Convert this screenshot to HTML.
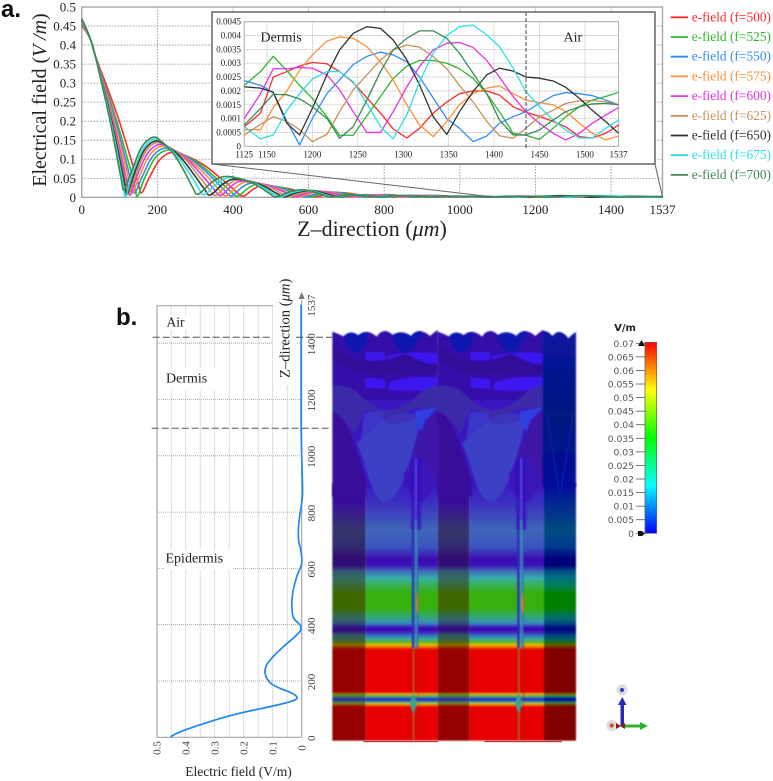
<!DOCTYPE html>
<html lang="en">
<head>
<meta charset="utf-8">
<title>Electric field distribution</title>
<style>
html,body{margin:0;padding:0;background:#fff;}
svg{position:absolute;left:0;top:0;display:block;}
text{font-family:"Liberation Serif",serif;fill:#222;}
.sans{font-family:"Liberation Sans",sans-serif;font-weight:bold;fill:#111;}
.dv{font-family:"DejaVu Sans",sans-serif;fill:#555;}
</style>
</head>
<body>
<svg id="fig" width="773" height="781" viewBox="0 0 773 781" xmlns="http://www.w3.org/2000/svg">
  <defs>
    <linearGradient id="grad-bright" gradientUnits="userSpaceOnUse" x1="0" x2="0" y1="490" y2="1262"></linearGradient>
    <linearGradient id="grad-dark" gradientUnits="userSpaceOnUse" x1="0" x2="0" y1="490" y2="1262"></linearGradient>
    <linearGradient id="grad-right" gradientUnits="userSpaceOnUse" x1="0" x2="0" y1="490" y2="1262"></linearGradient>
    <linearGradient id="grad-right-top" x1="0" x2="0" y1="0" y2="1">
      <stop offset="0" stop-color="#0a14a0"/><stop offset="0.55" stop-color="#001a80"/><stop offset="1" stop-color="#000a98"/>
    </linearGradient>
    <linearGradient id="grad-colorbar" x1="0" x2="0" y1="1" y2="0">
      <stop offset="0" stop-color="#0000ff"/><stop offset="0.25" stop-color="#00ffff"/><stop offset="0.5" stop-color="#00ff00"/><stop offset="0.75" stop-color="#ffff00"/><stop offset="1" stop-color="#ff0000"/>
    </linearGradient>
    <filter id="soft" x="-5%" y="-5%" width="110%" height="110%"><feGaussianBlur stdDeviation="2"/></filter>
    <g id="heat-tile">
      <path d="M22,35 Q42,42 62,52 Q68,38 78,38 Q90,38 100,46 Q112,34 128,36 Q142,38 155,50 Q166,32 182,33 Q196,35 205,48 Q216,36 230,37 Q246,38 258,48 Q270,32 286,33 Q302,36 315,48 Q328,36 338,30 L338,300 L22,300 Z" fill="#3610a8"/>
      <path d="M120,97 L178,97 L182,130 L120,128 Z" fill="#3a18ee"/>
      <path d="M185,108 Q240,92 338,100 L338,128 Q270,140 190,128 Z" fill="#3a18ee"/>
      <path d="M120,172 L178,178 L182,206 L122,204 Z" fill="#3a18ee"/>
      <path d="M190,190 Q240,165 338,172 L338,208 Q280,215 190,210 Z" fill="#3a18ee"/>
      <path d="M22,70 Q70,120 120,120 Q180,130 240,100 Q300,130 338,140 L338,155 Q270,180 210,160 Q130,170 80,150 Q50,130 22,125 Z" fill="#30109a"/>
      <path d="M56,48 Q68,36 78,38 Q90,38 100,46 Q112,34 130,36 L130,50 Q118,100 92,98 Q66,92 56,48 Z" fill="#0a18b0"/>
      <path d="M200,46 Q216,36 230,37 Q246,38 258,48 Q270,32 288,33 L286,52 Q264,100 240,98 Q212,92 200,46 Z" fill="#0a18b0"/>
      <rect x="22" y="240" width="316" height="260" fill="#3a18c0"/>
      <path d="M22,198 Q50,192 90,212 Q140,262 180,272 Q240,270 290,215 Q315,198 338,195 L338,270 Q300,262 265,265 Q225,290 185,290 L120,268 Q95,330 90,340 Q60,290 22,275 Z" fill="#3a2aa8"/>
      <path d="M118,278 L175,275 L180,340 L135,405 L105,385 Z" fill="#3a35c8"/>
      <path d="M270,275 L338,262 L300,300 L290,335 L268,310 Z" fill="#2f40e0"/>
      <path d="M95,370 C125,430 140,545 180,545 C225,545 250,440 280,330 L270,295 L180,295 Z" fill="#3a40c4"/>
      <path d="M180,295 Q215,270 270,285 L262,305 Q220,315 180,310 Z" fill="#3c30b8"/>
      <path d="M22,275 C50,275 80,340 95,390 C115,450 130,490 122,530 L22,530 Z" fill="#38109a"/>
      <path d="M338,272 C300,285 282,350 262,412 L300,420 L330,480 L338,520 Z" fill="#3c12a8"/>
      <path d="M262,412 Q285,405 300,430 Q325,480 330,490 Q300,545 285,548 Q250,540 235,465 Z" fill="#3a12b8"/>
      <rect x="258" y="415" width="30" height="215" fill="#3a12c0" opacity=".8"/>
      <rect x="261" y="630" width="7" height="355" fill="#3328c0"/>
      <rect x="270" y="415" width="5" height="185" fill="#5050d0" opacity=".9"/>
      <rect x="270" y="600" width="5" height="385" fill="#34a0a8" opacity=".9"/>
      <rect x="275" y="630" width="5" height="355" fill="#3a60c0" opacity=".8"/>
      <ellipse cx="278" cy="850" rx="3" ry="32" fill="#e06010"/>
      <rect x="264" y="985" width="3" height="277" fill="#70b030"/>
      <rect x="279" y="975" width="2" height="287" fill="#a02000"/>
      <path d="M265,1120 L276,1150 L265,1185 L254,1150 Z" fill="#40a090"/>
    </g>
    <clipPath id="tile-clip"><rect x="338" y="0" width="319" height="1300"/></clipPath>
  </defs>

  <g id="panel-a">
    <text class="sans" x="1" y="17" font-size="24">a.</text>
    <g id="main-grid"></g>
    <rect x="81.7" y="7" width="580.8" height="190.3" fill="none" stroke="#a8a8a8" stroke-width="1.4"/>
    <g id="main-ticks"></g>
    <g id="main-lines"></g>
    <text x="372" y="236" font-size="22" text-anchor="middle">Z–direction (<tspan font-style="italic">μm</tspan>)</text>
    <text transform="translate(46,100) rotate(-90)" font-size="20" text-anchor="middle">Electrical field (<tspan font-style="italic">V /m</tspan>)</text>
    <path d="M212,164 L493,197" fill="none" stroke="#666" stroke-width="1"/>
    <path d="M655,164 L662.5,197" fill="none" stroke="#666" stroke-width="1"/>
    <rect x="212" y="12" width="443" height="152" fill="#fff" stroke="#666" stroke-width="1.5"/>
    <g id="inset-grid"></g>
    <rect x="244.2" y="21.7" width="374.3" height="124.6" fill="none" stroke="#b0b0b0" stroke-width="1"/>
    <g id="inset-ticks"></g>
    <g id="inset-lines"></g>
    <line x1="526" y1="12" x2="526" y2="148" stroke="#666" stroke-width="1.2" stroke-dasharray="4 2"/>
    <text x="260.5" y="41.7" font-size="14">Dermis</text>
    <text x="563.5" y="41.7" font-size="14">Air</text>
    <g id="legend"></g>
  </g>

  <g id="panel-b">
    <text class="sans" x="116" y="325" font-size="24">b.</text>
    <g id="profile-grid"></g>
    <rect x="165" y="315" width="23" height="15" fill="#fff"/>
    <rect x="165" y="368" width="52" height="22" fill="#fff"/>
    <rect x="164" y="550" width="69" height="20" fill="#fff"/>
    <rect x="273" y="294" width="23" height="91" fill="#fff"/>
    <path d="M273,305.7 H157 V737.3 H301.7 V300" fill="none" stroke="#a8a8a8" stroke-width="1.2"/>
    <path d="M298.7,299 L301.7,292 L304.7,299 Z" fill="#777"/>
    <g id="profile-ticks"></g>
    <g id="profile-line-group"></g>
    <path d="M152.7,337.3 H272 M296,337.3 H332" fill="none" stroke="#555" stroke-width="1" stroke-dasharray="7 3"/>
    <path d="M151.7,428.3 H330" fill="none" stroke="#555" stroke-width="1" stroke-dasharray="7 3"/>
    <text x="166.5" y="326.7" font-size="13.5">Air</text>
    <text x="166" y="382.7" font-size="14">Dermis</text>
    <text x="165.5" y="562.7" font-size="14">Epidermis</text>
    <text x="238.5" y="776" font-size="13.5" text-anchor="middle">Electric field (V/m)</text>
    <text transform="translate(289.5,378) rotate(-90)" font-size="14.6">Z–direction (<tspan font-style="italic">μm</tspan>)</text>

    <g transform="translate(325,320) scale(0.33333)">
      <g id="heat-columns" filter="url(#soft)"></g>
      <g filter="url(#soft)">
        <use href="#heat-tile"/>
        <g clip-path="url(#tile-clip)"><use href="#heat-tile" x="316"/></g>
        <path d="M653,31 Q672,34 682,48 Q694,34 706,36 Q720,40 730,55 Q742,42 753,36 L753,500 L653,500 Z" fill="url(#grad-right-top)"/>
        <path d="M665,280 L705,530 L745,280" fill="none" stroke="#1a28c8" stroke-width="2"/>
      </g>
      <path d="M115,1265 H340 M478,1265 H710" fill="none" stroke="#a02020" stroke-width="3"/>
    </g>

    <text class="dv" x="625" y="331" font-size="10" font-weight="bold" text-anchor="middle" style="fill:#222">V/m</text>
    <rect x="645" y="342.3" width="11.7" height="191" fill="url(#grad-colorbar)" stroke="#666" stroke-width="0.8"/>
    <g id="colorbar-ticks"></g>
    <path d="M638,346 L641.5,340 L645,346 Z" fill="#111"/>
    <path d="M638,531 L642,531 L645,533.5 L642,536 L638,536 Z" fill="#111"/>

    <g>
      <circle cx="622" cy="690" r="5.5" fill="#ddd"/>
      <circle cx="622" cy="690" r="2" fill="#3a3ac8"/>
      <circle cx="611.7" cy="725.5" r="5.5" fill="#ddd"/>
      <circle cx="611.7" cy="725.5" r="2" fill="#e04040"/>
      <path d="M620.5,726 V705 H618 L622.3,697 L626.5,705 H624 V726 Z" fill="#2a2ab8"/>
      <path d="M622,724.5 H640 V722 L648,726 L640,730 V727.5 H622 Z" fill="#30b030"/>
      <path d="M616,723 L621,726 L616,729 Z M625,723 L620,726 L625,729 Z" fill="#802020"/>
    </g>
  </g>
</svg>

<script>
// ---- frequencies and legend ----
const frequencies = [500, 525, 550, 575, 600, 625, 650, 675, 700];
const lineColors = ['#ff2a2a', '#2db82d', '#2d8cff', '#ff9033', '#e633e6', '#c8925a', '#333333', '#2ee0e6', '#3d8a55'];

// ---- main chart values: Z position and field for each frequency ----
const zMain500 = [0,12,25,35,96,147,158,178,206,238,276,323,370,404,427,455,482,551,599,620,655,690,730,760,810,880,940,1000,1060,1100];
const eMain500 = [.45,.435,.41,.375,.21,.045,.012,.05,.098,.118,.109,.085,.048,.019,.003,.022,.031,.022,.006,.001,.009,.012,.007,.001,.007,.001,.005,.001,.003,.001];
const zMain525 = [0,12,25,35,91,137,147,167,194,226,263,309,355,389,412,440,468,536,584,605,640,675,715,745,795,865,925,985,1045,1095];
const eMain525 = [.452,.436,.41,.375,.205,.045,.003,.052,.103,.124,.114,.089,.051,.02,.003,.024,.034,.024,.007,.001,.01,.013,.007,.001,.007,.001,.005,.001,.003,.001];
const zMain550 = [0,12,25,35,88,130,140,160,187,218,254,298,344,375,396,425,454,522,570,590,625,660,700,735,785,855,915,975,1035,1090];
const eMain550 = [.455,.437,.41,.375,.205,.045,.012,.054,.107,.129,.119,.093,.053,.021,.004,.027,.037,.026,.007,.001,.01,.014,.008,.001,.007,.001,.005,.001,.003,.002];
const zMain575 = [0,12,25,35,85,125,134,153,180,210,245,288,332,362,382,411,440,507,555,575,610,645,685,720,770,840,900,960,1025,1085];
const eMain575 = [.458,.438,.41,.375,.205,.045,.01,.056,.111,.134,.123,.096,.055,.021,.004,.029,.04,.028,.008,.001,.011,.015,.008,.001,.007,.001,.005,.001,.003,.001];
const zMain600 = [0,12,25,35,82,119,128,147,174,204,237,279,319,349,368,398,428,496,545,565,598,630,670,710,760,830,890,950,1015,1080];
const eMain600 = [.46,.44,.41,.375,.205,.045,.006,.058,.115,.139,.128,.1,.057,.022,.005,.031,.043,.03,.009,.001,.012,.016,.009,.001,.007,.001,.005,.001,.003,.001];
const zMain625 = [0,12,25,35,80,115,124,143,169,199,230,270,307,336,354,386,418,484,530,550,584,618,655,695,745,815,880,940,1005,1075];
const eMain625 = [.462,.441,.41,.375,.205,.045,.01,.06,.12,.144,.132,.104,.059,.023,.005,.033,.046,.032,.009,.001,.012,.017,.009,.001,.007,.001,.005,.001,.003,.001];
const zMain650 = [0,12,25,35,78,112,120,139,165,195,224,260,296,323,340,374,408,471,516,535,570,606,645,680,730,800,865,930,995,1070];
const eMain650 = [.465,.442,.41,.375,.205,.045,.008,.062,.123,.148,.136,.107,.061,.024,.006,.035,.048,.034,.01,.001,.013,.018,.01,.001,.007,.001,.005,.001,.003,.001];
const zMain675 = [0,12,25,35,76,108,116,135,162,192,218,251,285,309,324,360,396,460,506,525,560,595,635,670,720,790,855,920,985,1065];
const eMain675 = [.467,.443,.41,.375,.205,.045,.002,.064,.127,.153,.141,.11,.063,.024,.007,.037,.052,.036,.01,.001,.013,.019,.01,.001,.007,.001,.005,.001,.003,.001];
const zMain700 = [0,12,25,35,74,104,112,131,158,189,213,243,273,294,308,345,383,449,495,515,550,585,625,660,710,780,845,910,975,1060];
const eMain700 = [.47,.444,.41,.375,.205,.05,.02,.066,.131,.158,.145,.114,.065,.025,.008,.04,.055,.039,.011,.001,.014,.02,.011,.001,.007,.001,.005,.001,.003,.001];

// ---- inset values (dermis / air zone) ----
const zInset = [1125,1143,1157,1172,1186,1200,1216,1230,1245,1260,1275,1289,1304,1318,1333,1348,1362,1377,1392,1406,1421,1435,1450,1465,1479,1494,1508,1523,1537];
const eInset500 = [.0007,.0012,.0025,.0027,.0029,.00303,.00298,.0027,.0023,.00175,.0012,.00063,.0003,.00065,.0012,.0016,.0019,.002,.002,.00185,.00143,.00123,.00108,.0009,.0007,.00035,.0003,.00047,.00077];
const eInset525 = [.0022,.0027,.00325,.00273,.0022,.00173,.00107,.0004,.0004,.0011,.0018,.00245,.0029,.0031,.0031,.003,.0028,.00245,.0019,.00125,.00047,.0004,.00025,.00065,.00107,.00143,.00167,.0018,.00195];
const eInset550 = [.00237,.0022,.00195,.0009,.00005,.001,.0019,.0024,.00295,.00325,.0034,.0033,.00305,.0025,.00175,.001,.00065,.00017,.00037,.00083,.00107,.00125,.00155,.00183,.00194,.0019,.00183,.00167,.0015];
const eInset575 = [.0006,.0006,.0014,.002,.00275,.0033,.0038,.00395,.0039,.0036,.00305,.0024,.0015,.00077,.00035,.0009,.0015,.0019,.0021,.00218,.0019,.00167,.00158,.0015,.00125,.00083,.00047,.00023,.00037];
const eInset600 = [.001,.0019,.0028,.0028,.00285,.00282,.00258,.00204,.00125,.0005,.0005,.00125,.00215,.00288,.00348,.00372,.00375,.00357,.0031,.0025,.0018,.00125,.00083,.00047,.00023,.00047,.00083,.00113,.0014];
const eInset625 = [.0004,.0008,.00107,.0009,.0006,.00017,.00043,.00125,.00204,.00258,.00312,.00348,.00366,.00358,.00324,.0028,.0022,.0016,.0009,.00038,.00029,.00065,.00107,.0013,.00155,.00164,.00165,.00161,.0015];
const eInset650 = [.00215,.0021,.00195,.00083,.00041,.00137,.00258,.00348,.00408,.00432,.00426,.00384,.00312,.00222,.00107,.00043,.00125,.00198,.00258,.00282,.00272,.0025,.00246,.00236,.00213,.00173,.0013,.00089,.00047];
const eInset675 = [.00071,.00027,.00041,.0013,.0019,.00243,.0027,.0027,.00233,.00155,.00071,.00027,.00113,.00233,.00336,.004,.00432,.00438,.00402,.0036,.00282,.00198,.00143,.00095,.00059,.0003,.0003,.00065,.00095];
const eInset700 = [.00077,.00137,.00188,.00186,.00171,.00143,.00101,.00029,.00071,.00167,.0027,.00348,.0039,.00417,.00417,.0039,.00336,.00264,.0019,.00095,.00041,.00041,.00059,.00095,.00125,.00143,.00153,.00155,.0015];

// ---- field profile (panel b) ----
const zProfile = [0,8,26,56,83,109,123,133,144,160,174,194,227,257,287,322,358,381,399,426,470,512,571,618,665,701,760,832,878,997,1116,1300,1537];
const eProfile = [.452,.4425,.402,.316,.224,.109,.052,.023,.017,.04,.075,.109,.126,.121,.098,.063,.023,.003,.006,.029,.034,.031,.017,0,.003,.011,.01,0,-.003,0,.002,.002,.002];

// ---- tick labels ----
const mainYTicks = [0,0.05,0.1,0.15,0.2,0.25,0.3,0.35,0.4,0.45,0.5];
const mainXTicks = [0,200,400,600,800,1000,1200,1400,1537];
const insetYTicks = [0,0.0005,0.001,0.0015,0.002,0.0025,0.003,0.0035,0.004,0.0045];
const insetXTicks = [1125,1150,1200,1250,1300,1350,1400,1450,1500,1537];
const profileZTicks = [0,200,400,600,800,1000,1200,1400,1537];
const profileFieldTicks = [0.5,0.4,0.3,0.2,0.1,0];
const profileFieldGrid = [0.45,0.4,0.35,0.3,0.25,0.2,0.15,0.1,0.05];
const colorbarTicks = ['0.07','0.065','0.06','0.055','0.05','0.045','0.04','0.035','0.03','0.025','0.02','0.015','0.01','0.005','0'];

// ---- heatmap band colours (tile-row, colour) ----
const bandRows = [-140,-80,0,50,85,105,125,145,170,190,235,262,280,292,303,315,327,336,345,352,358,488,491,495,500,506,512,516,521,526,530,632];
const bandBright = ['#3a18c4','#3a30c0','#3f66b8','#3b55c0','#3a10b0','#3a10b8','#3f70b8','#35b0a8','#38b040','#34b010','#34b010','#30a878','#3a88c0','#3a10b8','#3a10b8','#3a60c0','#30b0a0','#60b020','#e0c000','#f06000','#e80000','#e80000','#e8a000','#a8b010','#30b080','#3030c0','#3030c0','#30b0a0','#c8c000','#f06000','#e80000','#e80000'];
const bandDark = ['#38109a','#38109a','#35356a','#302a70','#300a70','#300a78','#355a70','#356a60','#3a6830','#3c6800','#3c6800','#306a60','#30507a','#300a80','#300a80','#305a60','#305f50','#4a6a10','#906a00','#962800','#960000','#960000','#8a7a00','#608000','#308060','#303090','#303090','#308060','#8a7a00','#962800','#960000','#960000'];
const bandRight = ['#000a98','#002890','#004a80','#003a90','#00007a','#00007a','#005080','#007080','#007f50','#008000','#008000','#007070','#004a80','#000a80','#000a80','#004080','#006070','#107010','#606000','#802000','#800000','#800000','#806000','#608000','#008070','#000098','#000098','#008070','#607000','#802000','#800000','#800000'];

// ---- axis functions ----
function xMain(z) { return 81.7 + z * 0.3781; }
function yMain(e) { return 197.3 - e * 380.6; }
function xIn(z) { return 244.2 + (z - 1125) * 0.9085; }
function yIn(e) { return 146.3 - e * 27689; }
function xProf(e) { return 301.7 - e * 290; }
function yProf(z) { return 737.3 - z * 0.2815; }

const NS = 'http://www.w3.org/2000/svg';
function node(tag, parentId, attrs) {
  const el = document.createElementNS(NS, tag);
  for (const k in attrs) el.setAttribute(k, attrs[k]);
  document.getElementById(parentId).appendChild(el);
  return el;
}
function pathFrom(xs, ys) {
  let d = '';
  for (let i = 0; i < xs.length; i++) d += (i ? 'L' : 'M') + xs[i].toFixed(2) + ',' + ys[i].toFixed(2);
  return d;
}
function smoothFrom(xs, ys, yLimit) {
  let d = 'M' + xs[0].toFixed(2) + ',' + ys[0].toFixed(2);
  for (let i = 0; i < xs.length - 1; i++) {
    const a = Math.max(i - 1, 0);
    const b = Math.min(i + 2, xs.length - 1);
    const c1x = xs[i] + (xs[i + 1] - xs[a]) / 6;
    const c1y = Math.min(ys[i] + (ys[i + 1] - ys[a]) / 6, yLimit);
    const c2x = xs[i + 1] - (xs[b] - xs[i]) / 6;
    const c2y = Math.min(ys[i + 1] - (ys[b] - ys[i]) / 6, yLimit);
    d += 'C' + c1x.toFixed(2) + ',' + c1y.toFixed(2) + ' ' + c2x.toFixed(2) + ',' + c2y.toFixed(2) + ' ' + xs[i + 1].toFixed(2) + ',' + ys[i + 1].toFixed(2);
  }
  return d;
}

// main grid and tick labels
mainYTicks.forEach(function (v) {
  const y = yMain(v);
  const g = node('line', 'main-grid', {x1: 81.7, x2: 662.5, y1: y, y2: y, stroke: '#888', 'stroke-width': 0.8, 'stroke-dasharray': '1.5 1.5'});
  
  
  const t = node('text', 'main-ticks', {x: 76, y: y + 4.5, 'font-size': 13, 'text-anchor': 'end'});
  t.textContent = String(v);
  
  
});
mainXTicks.forEach(function (v) {
  const x = v === 1537 ? 662.5 : xMain(v);
  const g = node('line', 'main-grid', {x1: x, x2: x, y1: 7, y2: 197.3, stroke: '#888', 'stroke-width': 0.8, 'stroke-dasharray': '1.5 1.5'});
  
  
  const t = node('text', 'main-ticks', {x: x, y: 214, 'font-size': 13, 'text-anchor': 'middle'});
  t.textContent = String(v);
  
  
});

// main series
const zMainAll = [zMain500, zMain525, zMain550, zMain575, zMain600, zMain625, zMain650, zMain675, zMain700];
const eMainAll = [eMain500, eMain525, eMain550, eMain575, eMain600, eMain625, eMain650, eMain675, eMain700];
const eInsetAll = [eInset500, eInset525, eInset550, eInset575, eInset600, eInset625, eInset650, eInset675, eInset700];
frequencies.forEach(function (f, i) {
  const zs = zMainAll[i].concat(zInset);
  const es = eMainAll[i].concat(eInsetAll[i]);
  const p = node('path', 'main-lines', {d: smoothFrom(zs.map(xMain), es.map(yMain), 197.3), fill: 'none', stroke: lineColors[i], 'stroke-width': 1.6, 'stroke-linejoin': 'round'});
  
  
});

// inset grid, ticks and series
insetYTicks.forEach(function (v) {
  const y = yIn(v);
  const g = node('line', 'inset-grid', {x1: 244.2, x2: 618.5, y1: y, y2: y, stroke: '#bbb', 'stroke-width': 0.8, 'stroke-dasharray': '1.5 1'});
  
  
  const t = node('text', 'inset-ticks', {x: 241, y: y + 3, 'font-size': 9, 'text-anchor': 'end'});
  t.textContent = String(v);
  
  
});
insetXTicks.forEach(function (v) {
  const x = xIn(v);
  const g = node('line', 'inset-grid', {x1: x, x2: x, y1: 21.7, y2: 146.3, stroke: '#bbb', 'stroke-width': 0.8, 'stroke-dasharray': '1.5 1'});
  
  
  const t = node('text', 'inset-ticks', {x: x, y: 157.7, 'font-size': 9, 'text-anchor': 'middle'});
  t.textContent = String(v);
  
  
});
frequencies.forEach(function (f, i) {
  const p = node('path', 'inset-lines', {d: pathFrom(zInset.map(xIn), eInsetAll[i].map(yIn)), fill: 'none', stroke: lineColors[i], 'stroke-width': 1.3, 'stroke-linejoin': 'round'});
  
  
});

// legend
frequencies.forEach(function (f, i) {
  const y = 17.3 + i * 19.7;
  const l = node('line', 'legend', {x1: 670.7, x2: 688, y1: y, y2: y, stroke: lineColors[i], 'stroke-width': 1.8});
  
  
  const t = node('text', 'legend', {x: 691.7, y: y + 4, 'font-size': 13.4, style: 'fill:' + lineColors[i]});
  t.textContent = 'e-field (f=' + f + ')';
  
  
});

// profile grid and ticks
profileFieldGrid.forEach(function (v) {
  const x = xProf(v);
  const g = node('line', 'profile-grid', {x1: x, x2: x, y1: 305.7, y2: 737.3, stroke: '#aaa', 'stroke-width': 0.8, 'stroke-dasharray': '1 1'});
  
  
});
profileZTicks.forEach(function (v) {
  const y = yProf(v);
  if (v > 0 && v < 1537) {
    const g = node('line', 'profile-grid', {x1: 157, x2: 301.7, y1: y, y2: y, stroke: '#999', 'stroke-width': 0.8, 'stroke-dasharray': '1 1'});
    
    
  }
  const t = node('text', 'profile-ticks', {transform: 'translate(315,' + (y + 1) + ') rotate(-90)', 'font-size': 11, 'text-anchor': 'middle', style: 'fill:#444'});
  t.textContent = String(v);
  
  
});
profileFieldTicks.forEach(function (v) {
  const x = xProf(v);
  const t = node('text', 'profile-ticks', {transform: 'translate(' + (x + 4) + ',748) rotate(-90)', 'font-size': 11, 'text-anchor': 'middle', style: 'fill:#444'});
  t.textContent = String(v);
  
  
});
const profilePath = node('path', 'profile-line-group', {d: smoothFrom(eProfile.map(xProf), zProfile.map(yProf), 800), fill: 'none', stroke: '#1e88f0', 'stroke-width': 1.7, 'stroke-linejoin': 'round'});



// heatmap gradients and columns
function fillStops(id, colors) {
  const grad = document.getElementById(id);
  bandRows.forEach(function (row, i) {
    const s = document.createElementNS(NS, 'stop');
    s.setAttribute('offset', (row + 140) / 772);
    s.setAttribute('stop-color', colors[i]);
    grad.appendChild(s);
  });
}
fillStops('grad-bright', bandBright);
fillStops('grad-dark', bandDark);
fillStops('grad-right', bandRight);
const heatColumnLefts = [22, 122, 338, 433, 657];
const heatColumnRights = [122, 338, 433, 657, 753];
const heatColumnFills = ['grad-dark', 'grad-bright', 'grad-dark', 'grad-bright', 'grad-right'];
heatColumnLefts.forEach(function (x, i) {
  const r = node('rect', 'heat-columns', {x: x, y: 490, width: heatColumnRights[i] - x, height: 772, fill: 'url(#' + heatColumnFills[i] + ')'});
  
  
});

// colorbar ticks
colorbarTicks.forEach(function (label, i) {
  const y = 343.3 + i * 13.57;
  const l = node('line', 'colorbar-ticks', {x1: 636, x2: 645, y1: y, y2: y, stroke: '#555', 'stroke-width': 0.8});
  
  
  const t = node('text', 'colorbar-ticks', {x: 634, y: y + 3.5, 'font-size': 9.2, 'text-anchor': 'end', 'class': 'dv'});
  t.textContent = label;
  
  
});
</script>
</body>
</html>
